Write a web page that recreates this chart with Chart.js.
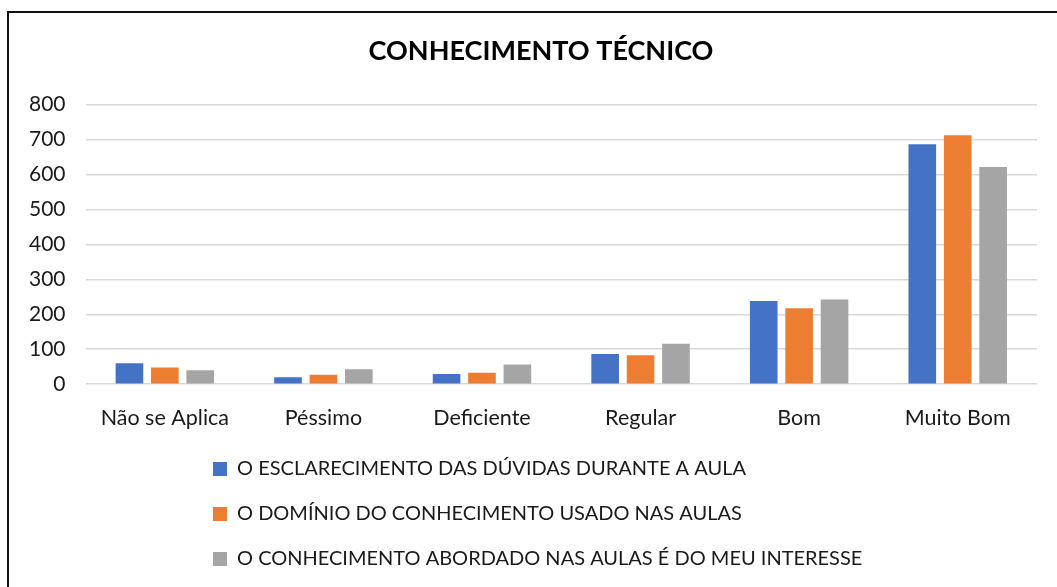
<!DOCTYPE html>
<html>
<head>
<meta charset="utf-8">
<script src="https://cdn.jsdelivr.net/npm/chart.js@4/dist/chart.umd.min.js"></script>
<style>
  body { margin: 0; background: #fff; }
  #wrap { position: relative; width: 1057px; height: 587px; }
  #frame { position: absolute; left: 7px; top: 11px; right: -4px; bottom: -4px; border: 2px solid #111; }
  canvas { position: absolute; left: 0; top: 0; }
</style>
</head>
<body>
<div id="wrap">
  <div id="frame"></div>
  <canvas id="chart" width="1057" height="587"></canvas>
</div>
<script>
"use strict";

const categorias = ['Não se Aplica', 'Péssimo', 'Deficiente', 'Regular', 'Bom', 'Muito Bom'];

const esclarecimento = [60, 20, 29, 86, 238, 686];
const dominio = [48, 27, 33, 83, 217, 712];
const interesse = [40, 43, 56, 116, 242, 621];

const yTicks = [0, 100, 200, 300, 400, 500, 600, 700, 800];

const titulo = 'CONHECIMENTO TÉCNICO';
const nomes = [
    'O ESCLARECIMENTO DAS DÚVIDAS DURANTE A AULA',
    'O DOMÍNIO DO CONHECIMENTO USADO NAS AULAS',
    'O CONHECIMENTO ABORDADO NAS AULAS É DO MEU INTERESSE'
];

const cores = ['#4472C4', '#ED7D31', '#A5A5A5'];

// legend rows stacked and left aligned as one block, title a bit to the right
const legendPlace = {
    id: 'legendPlace',
    afterLayout(chart) {
        const lg = chart.legend;
        const pad = lg.options.labels.padding;
        lg.left = 213 - pad;
        lg.top = 459 - pad;

        const tb = chart.titleBlock;
        tb.left += 18;
        tb.right += 18;
    }
};

const ctx = document.getElementById('chart').getContext('2d');

new Chart(ctx, {
    type: 'bar',
    data: {
        labels: categorias,
        datasets: [
            { label: nomes[0], data: esclarecimento, backgroundColor: cores[0] },
            { label: nomes[1], data: dominio, backgroundColor: cores[1] },
            { label: nomes[2], data: interesse, backgroundColor: cores[2] }
        ]
    },
    options: {
        responsive: false,
        animation: false,
        devicePixelRatio: 1,
        categoryPercentage: 0.67,
        barPercentage: 0.78,
        layout: { padding: { left: 9, right: 20, top: 0, bottom: 0 } },
        plugins: {
            title: {
                display: true,
                text: titulo,
                color: '#000',
                font: { family: 'Lato', size: 27, weight: 'bold' },
                padding: { top: 35, bottom: 37 }
            },
            legend: {
                position: 'bottom',
                align: 'start',
                maxHeight: 143,
                labels: {
                    boxWidth: 14,
                    boxHeight: 14,
                    padding: 25,
                    color: '#1a1a1a',
                    font: { family: 'Lato', size: 20 }
                }
            },
            tooltip: { enabled: false }
        },
        scales: {
            x: {
                grid: { display: false },
                border: { display: false },
                ticks: {
                    padding: 13,
                    color: '#1a1a1a',
                    font: { family: 'Lato', size: 21.5 }
                }
            },
            y: {
                min: 0,
                max: 800,
                afterBuildTicks(scale) {
                    scale.ticks = yTicks.map(v => ({ value: v }));
                },
                grid: { color: '#d9d9d9', lineWidth: 1.5, drawTicks: false },
                border: { display: false },
                ticks: {
                    padding: 20,
                    color: '#1a1a1a',
                    font: { family: 'Lato', size: 21 }
                }
            }
        }
    },
    plugins: [legendPlace]
});
</script>
</body>
</html>
